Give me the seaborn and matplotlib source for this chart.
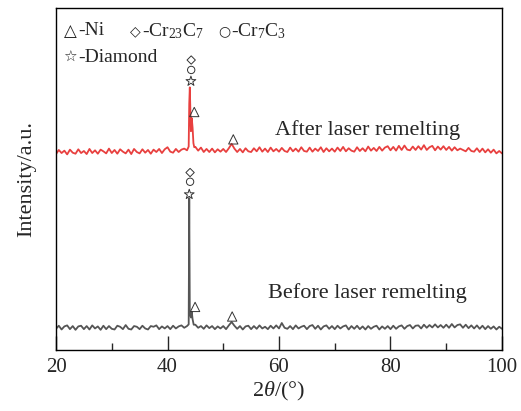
import numpy as np
import pandas as pd
import matplotlib
matplotlib.use("Agg")
import matplotlib.pyplot as plt
import seaborn as sns

# 2theta grid (0.5 deg) and intensities (stacked, a.u.)
two_theta = np.arange(20.0, 100.01, 0.5)

after_int = [
    57.3, 58.5, 57.6, 58.3, 57.2, 58.6, 57.7, 57.4, 58.7, 57.6,
    58.2, 57.3, 58.8, 57.6, 58.4, 57.4, 58.6, 58.1, 57.5, 58.9,
    57.6, 58.5, 57.4, 58.7, 58.0, 57.5, 58.6, 57.3, 58.8, 57.9,
    57.5, 58.7, 57.7, 58.5, 57.4, 58.6, 57.9, 58.8, 57.6, 58.7,
    59.3, 58.0, 57.7, 58.8, 57.9, 58.6, 58.9, 58.4, 76.8, 65.0,
    59.4, 58.3, 59.2, 57.9, 58.8, 57.9, 58.9, 57.8, 58.7, 58.0,
    58.8, 57.9, 59.0, 60.3, 58.9, 57.9, 58.8, 57.8, 59.0, 58.1,
    57.9, 59.0, 58.1, 59.3, 58.0, 58.9, 57.9, 59.2, 58.1, 58.8,
    58.0, 59.1, 58.2, 57.9, 59.2, 58.1, 58.9, 58.0, 59.3, 58.2,
    58.0, 59.2, 58.0, 58.9, 58.2, 59.3, 57.9, 59.0, 58.1, 58.9,
    58.0, 59.2, 58.2, 59.4, 58.1, 59.0, 58.3, 58.0, 59.3, 58.2,
    59.0, 58.1, 59.5, 58.3, 59.1, 58.2, 59.4, 58.3, 59.2, 59.6,
    58.4, 59.4, 58.3, 59.7, 58.5, 59.8, 58.6, 58.4, 59.5, 58.5,
    59.6, 58.6, 59.9, 58.5, 59.3, 59.7, 58.4, 59.5, 58.6, 59.6,
    58.5, 59.4, 58.3, 59.3, 58.4, 58.9, 58.5, 58.1, 59.1, 58.2,
    58.0, 59.0, 57.9, 58.9, 57.8, 58.7, 57.7, 58.6, 57.5, 58.2,
    57.5,
]

before_int = [
    6.2, 7.1, 6.0, 6.9, 7.2, 6.1, 7.0, 5.9, 6.9, 7.1,
    6.1, 7.0, 6.0, 7.2, 6.3, 6.9, 5.9, 7.1, 6.1, 7.0,
    6.2, 6.0, 7.1, 6.8, 6.1, 7.3, 6.2, 6.0, 7.0, 6.8,
    6.1, 7.1, 6.3, 6.0, 7.0, 6.8, 7.2, 6.1, 6.9, 6.3,
    7.0, 6.1, 7.1, 6.3, 6.9, 7.2, 6.5, 7.0, 11.0, 9.0,
    7.4, 6.5, 7.0, 6.2, 7.2, 6.4, 7.0, 6.1, 6.9, 6.3,
    7.0, 6.1, 7.2, 8.2, 7.1, 6.2, 7.0, 6.0, 6.9, 7.1,
    6.1, 7.0, 6.2, 7.2, 6.3, 6.8, 6.1, 7.1, 6.3, 7.2,
    6.3, 7.9, 6.5, 6.2, 7.0, 6.1, 7.2, 6.3, 6.8, 7.1,
    6.1, 7.0, 7.3, 6.2, 7.1, 6.0, 6.9, 7.2, 6.2, 7.0,
    6.1, 7.1, 6.3, 6.9, 7.2, 6.0, 7.0, 6.2, 7.1, 6.1,
    6.9, 6.0, 7.0, 6.2, 6.8, 7.1, 6.0, 6.9, 6.2, 7.0,
    6.1, 7.1, 6.2, 6.9, 7.2, 6.2, 7.0, 7.3, 6.3, 7.1,
    7.2, 6.3, 7.4, 6.5, 7.3, 6.6, 7.5, 6.6, 7.3, 6.5,
    7.4, 6.5, 7.6, 6.6, 7.3, 7.5, 6.5, 7.4, 6.4, 7.2,
    6.3, 7.2, 6.2, 7.1, 6.1, 7.0, 6.2, 6.9, 6.0, 6.8,
    6.2,
]

# finer points around the main reflections
after_peak_theta = [43.8, 43.9, 44.1, 44.2, 44.35, 44.65, 44.8]
after_peak_int = [59.5, 72.0, 70.0, 64.0, 67.8, 60.5, 59.3]
before_peak_theta = [43.8, 43.9, 44.2, 44.35, 44.7]
before_peak_int = [7.5, 44.4, 9.5, 11.2, 7.4]

# phase symbols above the peaks
sym_theta = [44.2, 44.25, 44.25, 44.8, 51.8, 43.9, 44.05, 44.05, 44.95, 51.6]
sym_level = [78.6, 81.9, 84.8, 69.6, 61.6, 45.5, 49.2, 51.9, 12.6, 9.8]
sym_kind = ["*", "o", "D", "^", "^", "*", "o", "D", "^", "^"]

# legend entries (symbol, label)
legend_sym = ["△", "◇", "○", "☆"]
legend_lab = ["-Ni", "-Cr$_{23}$C$_7$", "-Cr$_7$C$_3$", "-Diamond"]

df = pd.concat([
    pd.DataFrame({"theta": np.r_[two_theta, after_peak_theta],
                  "I": np.r_[after_int, after_peak_int], "s": "after"}),
    pd.DataFrame({"theta": np.r_[two_theta, before_peak_theta],
                  "I": np.r_[before_int, before_peak_int], "s": "before"}),
]).sort_values(["s", "theta"])

sns.set_style("ticks")
plt.rcParams["font.family"] = ["Liberation Serif", "DejaVu Sans"]
plt.rcParams["mathtext.fontset"] = "custom"
plt.rcParams["mathtext.rm"] = "Liberation Serif"
plt.rcParams["mathtext.it"] = "Liberation Serif:italic"

fig = plt.figure(figsize=(5.21, 4.11), dpi=100)
ax = fig.add_axes([0.1075, 0.1484, 0.856, 0.832])

sns.lineplot(data=df, x="theta", y="I", hue="s", estimator=None,
             palette={"after": "#e8403f", "before": "#555555"},
             linewidth=1.3, legend=False, ax=ax)

msize = {"*": 55, "o": 28, "D": 18, "^": 45}
for t, v, k in zip(sym_theta, sym_level, sym_kind):
    ax.scatter(t, v, marker=k, s=msize[k], facecolors="none",
               edgecolors="#333333", linewidths=0.7, zorder=3)

ax.text(59.3, 64.3, "After laser remelting", fontsize=16, va="center")
ax.text(58.0, 16.7, "Before laser remelting", fontsize=16, va="center")

# hand-made legend: symbol in DejaVu, label in serif
sym_x = [0.018, 0.166, 0.364, 0.016]
lab_x = [0.050, 0.193, 0.392, 0.050]
leg_y = [0.933, 0.933, 0.933, 0.856]
sym_fs = [12, 10, 10, 11]
for sx, lx, ly, fs, sym, lab in zip(sym_x, lab_x, leg_y, sym_fs,
                                    legend_sym, legend_lab):
    ax.text(sx, ly, sym, transform=ax.transAxes, fontsize=fs,
            family="DejaVu Sans", va="center", ha="left", color="#222222")
    ax.text(lx, ly, lab, transform=ax.transAxes, fontsize=14,
            va="center", ha="left")

ax.set_xlim(20, 100)
ax.set_ylim(0, 100)
ax.set_xticks([20, 40, 60, 80, 100])
ax.set_xticks([30, 50, 70, 90], minor=True)
ax.set_yticks([])
ax.tick_params(axis="x", which="major", direction="in", length=10, width=1,
               labelsize=15, pad=6)
ax.tick_params(axis="x", which="minor", direction="in", length=5, width=1)
for sp in ax.spines.values():
    sp.set_linewidth(1.0)
    sp.set_color("black")
ax.set_xlabel("2$\\theta$/(°)", fontsize=16, labelpad=2)
ax.set_ylabel("Intensity/a.u.", fontsize=16, labelpad=14)

fig.savefig("out.png", dpi=100)
